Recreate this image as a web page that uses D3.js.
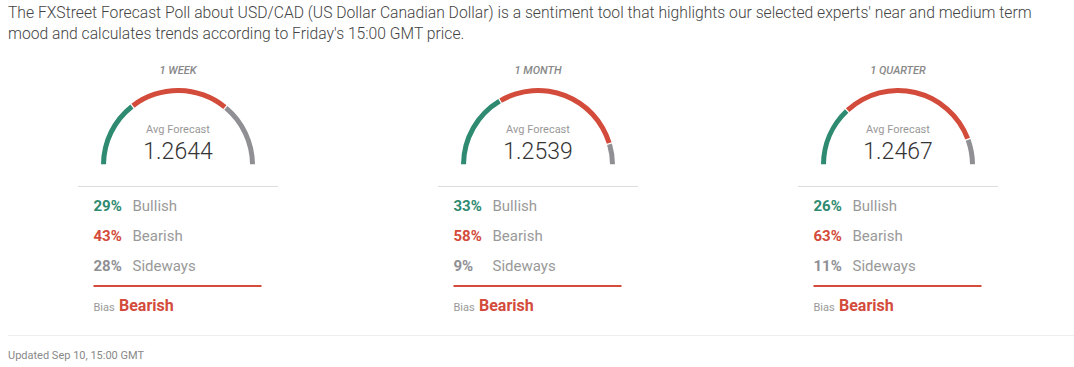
<!DOCTYPE html>
<html>
<head>
<meta charset="utf-8">
<script src="https://cdnjs.cloudflare.com/ajax/libs/d3/7.8.5/d3.min.js"></script>
<style>
  body { margin: 0; background: #fff; font-family: Roboto, "Noto Sans", sans-serif; }
  svg { display: block; }
</style>
</head>
<body>
<svg id="chart" width="1074" height="367"></svg>
<script>
// poll data
var periods = ["1 WEEK", "1 MONTH", "1 QUARTER"];
var bullish = [29, 33, 26];
var bearish = [43, 58, 63];
var sideways = [28, 9, 11];
var avgForecast = [1.2644, 1.2539, 1.2467];
var bias = ["Bearish", "Bearish", "Bearish"];
var rowLabels = ["Bullish", "Bearish", "Sideways"];
var headerLines = [
  "The FXStreet Forecast Poll about USD/CAD (US Dollar Canadian Dollar) is a sentiment tool that highlights our selected experts' near and medium term",
  "mood and calculates trends according to Friday's 15:00 GMT price."
];
var updated = "Updated Sep 10, 15:00 GMT";

var colors = { green: "#2e8a70", red: "#d34b3b", gray: "#8f8f94" };
var segColors = [colors.green, colors.red, colors.gray];

var svg = d3.select("#chart");

svg.selectAll("text.header")
  .data(headerLines)
  .enter().append("text")
  .attr("class", "header")
  .attr("x", 8)
  .attr("y", function (d, i) { return 18 + i * 21; })
  .style("font-size", "15.7px")
  .style("font-weight", 300)
  .attr("fill", "#444")
  .text(function (d) { return d; });

var cx = d3.scalePoint().domain(periods).range([178, 898]);

var pie = d3.pie().sort(null).startAngle(-Math.PI / 2).endAngle(Math.PI / 2).padAngle(0.012);
var arc = d3.arc().innerRadius(72).outerRadius(77);

periods.forEach(function (p, i) {
  var g = svg.append("g").attr("transform", "translate(" + cx(p) + ",0)");
  g.append("text")
    .attr("x", 0).attr("y", 73.5)
    .attr("text-anchor", "middle")
    .style("font-size", "11px")
    .style("font-style", "italic")
    .style("font-weight", 500)
    .attr("fill", "#888")
    .text(p);

  var vals = [bullish[i], bearish[i], sideways[i]];
  var gauge = g.append("g").attr("transform", "translate(0,165)");
  gauge.selectAll("path")
    .data(pie(vals))
    .enter().append("path")
    .attr("d", arc)
    .attr("fill", function (d, k) { return segColors[k]; });

  g.append("text")
    .attr("x", 0).attr("y", 133)
    .attr("text-anchor", "middle")
    .style("font-size", "11px")
    .attr("fill", "#999")
    .text("Avg Forecast");
  g.append("text")
    .attr("x", 0).attr("y", 158.5)
    .attr("text-anchor", "middle")
    .style("font-size", "23px")
    .style("font-weight", 300)
    .attr("fill", "#333")
    .text(d3.format(".4f")(avgForecast[i]));

  g.append("line")
    .attr("x1", -100).attr("x2", 100)
    .attr("y1", 186.5).attr("y2", 186.5)
    .attr("stroke", "#ddd");

  var y = d3.scalePoint().domain(rowLabels).range([211, 271]);
  rowLabels.forEach(function (lab, k) {
    g.append("text")
      .attr("x", -84.5).attr("y", y(lab))
      .style("font-size", "15px")
      .style("font-weight", 700)
      .attr("fill", segColors[k])
      .text(vals[k] + "%");
    g.append("text")
      .attr("x", -45.5).attr("y", y(lab))
      .style("font-size", "15px")
      .attr("fill", "#999")
      .text(lab);
  });

  g.append("line")
    .attr("x1", -84.5).attr("x2", 83.5)
    .attr("y1", 286).attr("y2", 286)
    .attr("stroke", colors.red)
    .attr("stroke-width", 2);

  g.append("text")
    .attr("x", -84.5).attr("y", 310.5)
    .style("font-size", "11px")
    .attr("fill", "#999")
    .text("Bias");
  g.append("text")
    .attr("x", -59).attr("y", 310.5)
    .style("font-size", "16px")
    .style("font-weight", 700)
    .attr("fill", colors.red)
    .text(bias[i]);
});

svg.append("line")
  .attr("x1", 8).attr("x2", 1074)
  .attr("y1", 335.5).attr("y2", 335.5)
  .attr("stroke", "#eee");

svg.append("text")
  .attr("x", 8).attr("y", 359)
  .style("font-size", "11px")
  .attr("fill", "#888")
  .text(updated);
</script>
</body>
</html>
